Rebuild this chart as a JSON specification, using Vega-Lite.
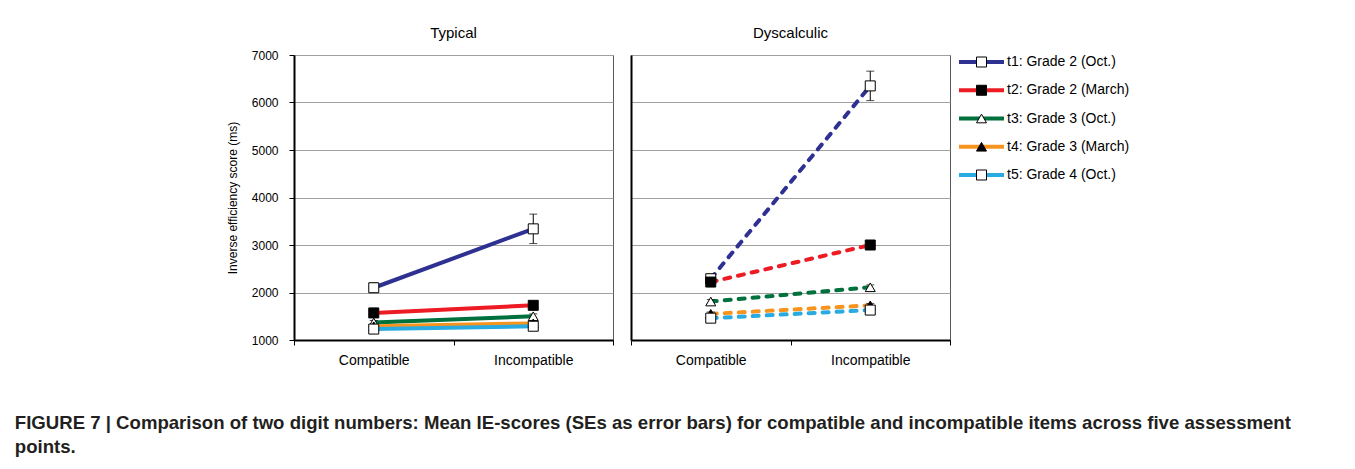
{
  "$schema": "https://vega.github.io/schema/vega-lite/v6.json",
  "background": "white",
  "padding": {"left": 14, "top": 25, "right": 0, "bottom": 0},
  "config": {
    "font": "Liberation Sans",
    "view": {"stroke": "#595959", "strokeWidth": 1},
    "axis": {"labelColor": "#000", "titleColor": "#000", "labelFont": "Liberation Sans", "titleFont": "Liberation Sans"}
  },
  "datasets": {
    "main": [
      {"panel": "Typical", "cond": "Compatible", "series": "t1: Grade 2 (Oct.)", "mean": 2100, "lo": 2000, "hi": 2200},
      {"panel": "Typical", "cond": "Incompatible", "series": "t1: Grade 2 (Oct.)", "mean": 3340, "lo": 3030, "hi": 3650},
      {"panel": "Typical", "cond": "Compatible", "series": "t2: Grade 2 (March)", "mean": 1570, "lo": 1530, "hi": 1610},
      {"panel": "Typical", "cond": "Incompatible", "series": "t2: Grade 2 (March)", "mean": 1730, "lo": 1690, "hi": 1770},
      {"panel": "Typical", "cond": "Compatible", "series": "t3: Grade 3 (Oct.)", "mean": 1370, "lo": 1330, "hi": 1410},
      {"panel": "Typical", "cond": "Incompatible", "series": "t3: Grade 3 (Oct.)", "mean": 1500, "lo": 1450, "hi": 1550},
      {"panel": "Typical", "cond": "Compatible", "series": "t4: Grade 3 (March)", "mean": 1290, "lo": 1250, "hi": 1330},
      {"panel": "Typical", "cond": "Incompatible", "series": "t4: Grade 3 (March)", "mean": 1350, "lo": 1310, "hi": 1390},
      {"panel": "Typical", "cond": "Compatible", "series": "t5: Grade 4 (Oct.)", "mean": 1230, "lo": 1190, "hi": 1270},
      {"panel": "Typical", "cond": "Incompatible", "series": "t5: Grade 4 (Oct.)", "mean": 1290, "lo": 1250, "hi": 1330},
      {"panel": "Dyscalculic", "cond": "Compatible", "series": "t1: Grade 2 (Oct.)", "mean": 2290, "lo": 2200, "hi": 2380},
      {"panel": "Dyscalculic", "cond": "Incompatible", "series": "t1: Grade 2 (Oct.)", "mean": 6350, "lo": 6040, "hi": 6660},
      {"panel": "Dyscalculic", "cond": "Compatible", "series": "t2: Grade 2 (March)", "mean": 2220, "lo": 2170, "hi": 2270},
      {"panel": "Dyscalculic", "cond": "Incompatible", "series": "t2: Grade 2 (March)", "mean": 3000, "lo": 2950, "hi": 3050},
      {"panel": "Dyscalculic", "cond": "Compatible", "series": "t3: Grade 3 (Oct.)", "mean": 1810, "lo": 1770, "hi": 1850},
      {"panel": "Dyscalculic", "cond": "Incompatible", "series": "t3: Grade 3 (Oct.)", "mean": 2110, "lo": 2060, "hi": 2160},
      {"panel": "Dyscalculic", "cond": "Compatible", "series": "t4: Grade 3 (March)", "mean": 1550, "lo": 1510, "hi": 1590},
      {"panel": "Dyscalculic", "cond": "Incompatible", "series": "t4: Grade 3 (March)", "mean": 1730, "lo": 1690, "hi": 1770},
      {"panel": "Dyscalculic", "cond": "Compatible", "series": "t5: Grade 4 (Oct.)", "mean": 1460, "lo": 1420, "hi": 1500},
      {"panel": "Dyscalculic", "cond": "Incompatible", "series": "t5: Grade 4 (Oct.)", "mean": 1630, "lo": 1590, "hi": 1670}
    ],
    "legend": [
      {"series": "t1: Grade 2 (Oct.)"},
      {"series": "t2: Grade 2 (March)"},
      {"series": "t3: Grade 3 (Oct.)"},
      {"series": "t4: Grade 3 (March)"},
      {"series": "t5: Grade 4 (Oct.)"}
    ]
  },
  "title": {
    "text": ["FIGURE 7 | Comparison of two digit numbers: Mean IE-scores (SEs as error bars) for compatible and incompatible items across five assessment", "points."],
    "orient": "bottom",
    "anchor": "start",
    "frame": "bounds",
    "font": "Liberation Sans",
    "fontWeight": "bold",
    "fontSize": 18.6,
    "lineHeight": 24,
    "offset": 46,
    "dx": -211,
    "color": "#231f20"
  },
  "spacing": 6,
  "hconcat": [
    {
      "spacing": 16,
      "hconcat": [
        {
          "data": {"name": "main"},
          "width": 319,
          "height": 285,
          "title": {"text": "Typical", "frame": "group", "fontSize": 15, "fontWeight": "normal", "offset": 8, "color": "#000"},
          "transform": [{"filter": "datum.panel === 'Typical'"}],
          "encoding": {
            "x": {"field": "cond", "type": "nominal", "bandPosition": 0.5,
              "scale": {"type": "band", "domain": ["Compatible", "Incompatible"], "paddingInner": 0, "paddingOuter": 0},
              "axis": {"title": null, "tickBand": "extent", "labelFontSize": 14, "labelAngle": 0, "tickSize": 5, "tickColor": "#000", "domainColor": "#000", "domainWidth": 2, "labelPadding": 8, "grid": false}}
          },
          "layer": [
            {
              "mark": {"type": "line", "strokeWidth": 4},
              "encoding": {
                "y": {"field": "mean", "type": "quantitative", "scale": {"domain": [1000, 7000], "nice": false, "zero": false},
                  "axis": {"title": "Inverse efficiency score (ms)", "values": [1000, 2000, 3000, 4000, 5000, 6000, 7000], "format": "d", "labelFontSize": 12, "titleFontSize": 12, "titleFontWeight": "normal", "tickSize": 5, "tickColor": "#000", "domainColor": "#000", "domainWidth": 2, "gridColor": "#a0a0a0", "labelPadding": 11, "titlePadding": 12}},
                "color": {"field": "series", "type": "nominal", "legend": null,
                  "scale": {"domain": ["t1: Grade 2 (Oct.)", "t2: Grade 2 (March)", "t3: Grade 3 (Oct.)", "t4: Grade 3 (March)", "t5: Grade 4 (Oct.)"], "range": ["#2e3192", "#ed1c24", "#00703c", "#f7941d", "#29abe2"]}}
              }
            },
            {
              "mark": {"type": "rule", "color": "#000", "strokeWidth": 1},
              "encoding": {"y": {"field": "lo", "type": "quantitative"}, "y2": {"field": "hi"}}
            },
            {
              "mark": {"type": "tick", "orient": "horizontal", "color": "#000", "size": 8, "thickness": 1},
              "encoding": {"x": {"field": "cond", "type": "nominal"}, "y": {"field": "lo", "type": "quantitative"}}
            },
            {
              "mark": {"type": "tick", "orient": "horizontal", "color": "#000", "size": 8, "thickness": 1},
              "encoding": {"x": {"field": "cond", "type": "nominal"}, "y": {"field": "hi", "type": "quantitative"}}
            },
            {
              "mark": {"type": "point", "filled": true, "stroke": "#000", "strokeWidth": 1, "size": 100, "opacity": 1},
              "encoding": {
                "y": {"field": "mean", "type": "quantitative"},
                "shape": {"field": "series", "type": "nominal", "legend": null,
                  "scale": {"domain": ["t1: Grade 2 (Oct.)", "t2: Grade 2 (March)", "t3: Grade 3 (Oct.)", "t4: Grade 3 (March)", "t5: Grade 4 (Oct.)"], "range": ["square", "square", "triangle-up", "triangle-up", "square"]}},
                "fill": {"field": "series", "type": "nominal", "legend": null,
                  "scale": {"domain": ["t1: Grade 2 (Oct.)", "t2: Grade 2 (March)", "t3: Grade 3 (Oct.)", "t4: Grade 3 (March)", "t5: Grade 4 (Oct.)"], "range": ["#ffffff", "#000000", "#ffffff", "#000000", "#ffffff"]}}
              }
            }
          ]
        },
        {
          "data": {"name": "main"},
          "width": 319,
          "height": 285,
          "title": {"text": "Dyscalculic", "frame": "group", "fontSize": 15, "fontWeight": "normal", "offset": 14, "color": "#000"},
          "transform": [{"filter": "datum.panel === 'Dyscalculic'"}],
          "encoding": {
            "x": {"field": "cond", "type": "nominal", "bandPosition": 0.5,
              "scale": {"type": "band", "domain": ["Compatible", "Incompatible"], "paddingInner": 0, "paddingOuter": 0},
              "axis": {"title": null, "tickBand": "extent", "labelFontSize": 14, "labelAngle": 0, "tickSize": 5, "tickColor": "#000", "domainColor": "#000", "domainWidth": 2, "labelPadding": 8, "grid": false}}
          },
          "layer": [
            {
              "mark": {"type": "line", "strokeWidth": 4, "strokeDash": [6, 8], "strokeCap": "round"},
              "encoding": {
                "y": {"field": "mean", "type": "quantitative", "scale": {"domain": [1000, 7000], "nice": false, "zero": false},
                  "axis": {"title": null, "labels": false, "ticks": false, "values": [1000, 2000, 3000, 4000, 5000, 6000, 7000], "domainColor": "#000", "domainWidth": 2, "gridColor": "#a0a0a0"}},
                "color": {"field": "series", "type": "nominal", "legend": null,
                  "scale": {"domain": ["t1: Grade 2 (Oct.)", "t2: Grade 2 (March)", "t3: Grade 3 (Oct.)", "t4: Grade 3 (March)", "t5: Grade 4 (Oct.)"], "range": ["#2e3192", "#ed1c24", "#00703c", "#f7941d", "#29abe2"]}}
              }
            },
            {
              "mark": {"type": "rule", "color": "#000", "strokeWidth": 1},
              "encoding": {"y": {"field": "lo", "type": "quantitative"}, "y2": {"field": "hi"}}
            },
            {
              "mark": {"type": "tick", "orient": "horizontal", "color": "#000", "size": 8, "thickness": 1},
              "encoding": {"x": {"field": "cond", "type": "nominal"}, "y": {"field": "lo", "type": "quantitative"}}
            },
            {
              "mark": {"type": "tick", "orient": "horizontal", "color": "#000", "size": 8, "thickness": 1},
              "encoding": {"x": {"field": "cond", "type": "nominal"}, "y": {"field": "hi", "type": "quantitative"}}
            },
            {
              "mark": {"type": "point", "filled": true, "stroke": "#000", "strokeWidth": 1, "size": 100, "opacity": 1},
              "encoding": {
                "y": {"field": "mean", "type": "quantitative"},
                "shape": {"field": "series", "type": "nominal", "legend": null,
                  "scale": {"domain": ["t1: Grade 2 (Oct.)", "t2: Grade 2 (March)", "t3: Grade 3 (Oct.)", "t4: Grade 3 (March)", "t5: Grade 4 (Oct.)"], "range": ["square", "square", "triangle-up", "triangle-up", "square"]}},
                "fill": {"field": "series", "type": "nominal", "legend": null,
                  "scale": {"domain": ["t1: Grade 2 (Oct.)", "t2: Grade 2 (March)", "t3: Grade 3 (Oct.)", "t4: Grade 3 (March)", "t5: Grade 4 (Oct.)"], "range": ["#ffffff", "#000000", "#ffffff", "#000000", "#ffffff"]}}
              }
            }
          ]
        }
      ]
    },
    {
      "data": {"name": "legend"},
      "width": 180,
      "height": 285,
      "view": {"stroke": null},
      "encoding": {
        "y": {"field": "series", "type": "nominal", "sort": null, "axis": null, "scale": {"type": "point", "range": [7, 120], "padding": 0}}
      },
      "layer": [
        {
          "mark": {"type": "rule", "strokeWidth": 4},
          "encoding": {
            "x": {"datum": 0, "type": "quantitative", "axis": null, "scale": {"domain": [0, 1], "range": [0, 45]}},
            "x2": {"datum": 1},
            "color": {"field": "series", "type": "nominal", "legend": null,
              "scale": {"domain": ["t1: Grade 2 (Oct.)", "t2: Grade 2 (March)", "t3: Grade 3 (Oct.)", "t4: Grade 3 (March)", "t5: Grade 4 (Oct.)"], "range": ["#2e3192", "#ed1c24", "#00703c", "#f7941d", "#29abe2"]}}
          }
        },
        {
          "mark": {"type": "point", "filled": true, "stroke": "#000", "strokeWidth": 1, "size": 100, "opacity": 1},
          "encoding": {
            "x": {"datum": 0.5, "type": "quantitative"},
            "shape": {"field": "series", "type": "nominal", "legend": null,
              "scale": {"domain": ["t1: Grade 2 (Oct.)", "t2: Grade 2 (March)", "t3: Grade 3 (Oct.)", "t4: Grade 3 (March)", "t5: Grade 4 (Oct.)"], "range": ["square", "square", "triangle-up", "triangle-up", "square"]}},
            "fill": {"field": "series", "type": "nominal", "legend": null,
              "scale": {"domain": ["t1: Grade 2 (Oct.)", "t2: Grade 2 (March)", "t3: Grade 3 (Oct.)", "t4: Grade 3 (March)", "t5: Grade 4 (Oct.)"], "range": ["#ffffff", "#000000", "#ffffff", "#000000", "#ffffff"]}}
          }
        },
        {
          "mark": {"type": "text", "align": "left", "baseline": "middle", "dx": 3, "fontSize": 14, "color": "#000"},
          "encoding": {
            "x": {"datum": 1, "type": "quantitative"},
            "text": {"field": "series", "type": "nominal"}
          }
        }
      ]
    }
  ]
}
